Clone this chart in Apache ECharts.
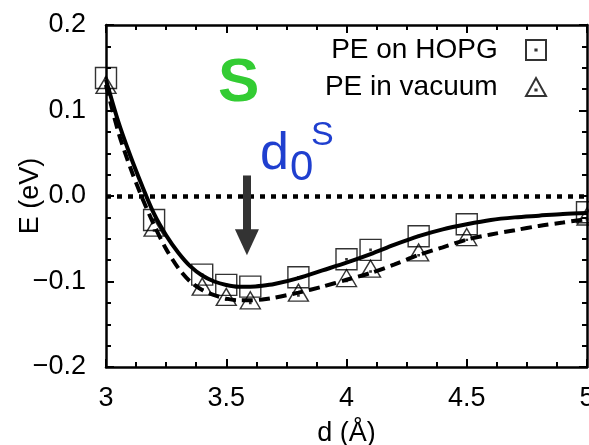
<!DOCTYPE html>
<html>
<head>
<meta charset="utf-8">
<script src="https://cdn.jsdelivr.net/npm/echarts@6/dist/echarts.min.js"></script>
<style>html,body{margin:0;padding:0;background:#fff}#c{width:589px;height:445px}</style>
</head>
<body>
<div id="c"></div>
<script>
// ---- data ----
const xTickLabels = ['3', '3.5', '4', '4.5', '5'];
const yTickLabels = ['\u22120.2', '\u22120.1', '0.0', '0.1', '0.2'];
const dPoints = [3.0, 3.2, 3.4, 3.5, 3.6, 3.8, 4.0, 4.1, 4.3, 4.5, 5.0];
const eHOPG   = [0.138, -0.028, -0.092, -0.104, -0.106, -0.095, -0.074, -0.063, -0.047, -0.033, -0.019];
const eVacuum = [0.130, -0.037, -0.106, -0.118, -0.122, -0.113, -0.096, -0.085, -0.066, -0.048, -0.024];
const dFit = [3.00, 3.05, 3.10, 3.15, 3.20, 3.25, 3.30, 3.35, 3.40, 3.45, 3.50, 3.55, 3.60, 3.65, 3.70, 3.80, 3.90, 4.00, 4.10, 4.20, 4.30, 4.40, 4.50, 4.60, 4.70, 4.80, 4.90, 5.00];
const fitHOPG = [0.136, 0.088, 0.048, 0.012, -0.021, -0.046, -0.066, -0.082, -0.093, -0.100, -0.104, -0.106, -0.106, -0.105, -0.103, -0.096, -0.087, -0.078, -0.068, -0.057, -0.047, -0.039, -0.033, -0.028, -0.025, -0.023, -0.021, -0.020];
const fitVacuum = [0.130, 0.076, 0.034, -0.002, -0.034, -0.062, -0.084, -0.100, -0.110, -0.116, -0.120, -0.122, -0.122, -0.121, -0.119, -0.113, -0.106, -0.098, -0.090, -0.080, -0.069, -0.060, -0.051, -0.045, -0.040, -0.035, -0.031, -0.027];
const seriesNames = ['PE on HOPG', 'PE in vacuum'];
const arrowD = 3.586, arrowTop = 0.024, arrowTip = -0.054;

const zip = (xs, ys) => xs.map((x, i) => [x, ys[i]]);
const FONT = 'Liberation Sans, Arial, Helvetica, sans-serif';
const sqPath = 'path://M0,0H20V20H0Z M9.4,9.4H10.6V10.6H9.4Z';
const triPath = 'path://M10,0L20,18H0Z M9.4,11.4H10.6V12.6H9.4Z';

const axisCommon = {
  axisLine: { show: true, onZero: false, lineStyle: { color: '#000', width: 2.5 } },
  axisTick: { show: true, inside: true, length: 8, lineStyle: { color: '#000', width: 2 } },
  minorTick: { show: true, splitNumber: 4, length: 5, lineStyle: { color: '#000', width: 2 } },
  splitLine: { show: false }
};

const chart = echarts.init(document.getElementById('c'), null, { renderer: 'canvas' });
const option = {
  animation: false,
  backgroundColor: '#fff',
  grid: { left: 106, right: 2, top: 25, bottom: 78, containLabel: false, outerBoundsMode: 'none' },
  xAxis: [
    Object.assign({
      type: 'value', min: 3, max: 5, interval: 0.5, position: 'bottom',
      name: 'd (\u00c5)', nameLocation: 'middle', nameGap: 53, nameMoveOverlap: false,
      nameTextStyle: { fontFamily: FONT, fontSize: 27, color: '#000' },
      axisLabel: { fontFamily: FONT, fontSize: 27, color: '#000', margin: 18,
        formatter: v => xTickLabels[Math.round((v - 3) / 0.5)] }
    }, axisCommon),
    Object.assign({
      type: 'value', min: 3, max: 5, interval: 0.5, position: 'top', axisLabel: { show: false }
    }, axisCommon)
  ],
  yAxis: [
    Object.assign({
      type: 'value', min: -0.2, max: 0.2, interval: 0.1, position: 'left',
      name: 'E (eV)', nameLocation: 'middle', nameGap: 62, nameRotate: 90, nameMoveOverlap: false,
      nameTextStyle: { fontFamily: FONT, fontSize: 27, color: '#000' },
      axisLabel: { fontFamily: FONT, fontSize: 27, color: '#000', margin: 20,
        formatter: v => yTickLabels[Math.round((v + 0.2) / 0.1)] }
    }, axisCommon),
    Object.assign({
      type: 'value', min: -0.2, max: 0.2, interval: 0.1, position: 'right', axisLabel: { show: false }
    }, axisCommon)
  ],
  legend: {
    data: seriesNames, orient: 'vertical', align: 'right', right: 37, top: 31,
    itemGap: 9, itemWidth: 20, itemHeight: 20,
    formatter: n => n + '   ',
    textStyle: { fontFamily: FONT, fontSize: 28, color: '#000' }
  },
  series: [
    {
      type: 'line', data: zip(dFit, fitHOPG), showSymbol: false, smooth: 0.3, silent: true,
      lineStyle: { color: '#000', width: 4 }, z: 3,
      markLine: {
        silent: true, symbol: ['none', 'none'], label: { show: false },
        lineStyle: { color: '#000', width: 4.5, type: [5, 6] },
        data: [{ yAxis: 0 }]
      }
    },
    {
      type: 'line', data: zip(dFit, fitVacuum), showSymbol: false, smooth: 0.3, silent: true,
      lineStyle: { color: '#000', width: 4, type: [11, 6] }, z: 3,
      markLine: {
        silent: true, symbol: ['none', 'triangle'], symbolSize: [24, 26], label: { show: false },
        lineStyle: { color: '#333', width: 8, type: 'solid' },
        itemStyle: { color: '#333' },
        data: [[{ coord: [arrowD, arrowTop] }, { coord: [arrowD, arrowTip] }]]
      }
    },
    {
      name: seriesNames[0], type: 'scatter', data: zip(dPoints, eHOPG),
      symbol: sqPath, symbolSize: 21, z: 4,
      itemStyle: { color: 'transparent', borderColor: '#000', borderWidth: 1.4 }
    },
    {
      name: seriesNames[1], type: 'scatter', data: zip(dPoints, eVacuum),
      symbol: triPath, symbolSize: [20, 17], z: 4,
      itemStyle: { color: 'transparent', borderColor: '#000', borderWidth: 1.4 }
    }
  ],
  graphic: [
    { type: 'text', left: 218, top: 53, style: { text: 'S', font: 'bold 62px ' + FONT, fill: '#33cc33' } },
    { type: 'text', x: 260, y: 155, style: { text: 'd', font: '52px ' + FONT, fill: '#1f3fcf', verticalAlign: 'middle' } },
    { type: 'text', x: 290, y: 168, style: { text: '0', font: '42px ' + FONT, fill: '#1f3fcf', verticalAlign: 'middle' } },
    { type: 'text', x: 311, y: 136, style: { text: 'S', font: '34px ' + FONT, fill: '#1f3fcf', verticalAlign: 'middle' } }
  ]
};
chart.setOption(option);
</script>
</body>
</html>
